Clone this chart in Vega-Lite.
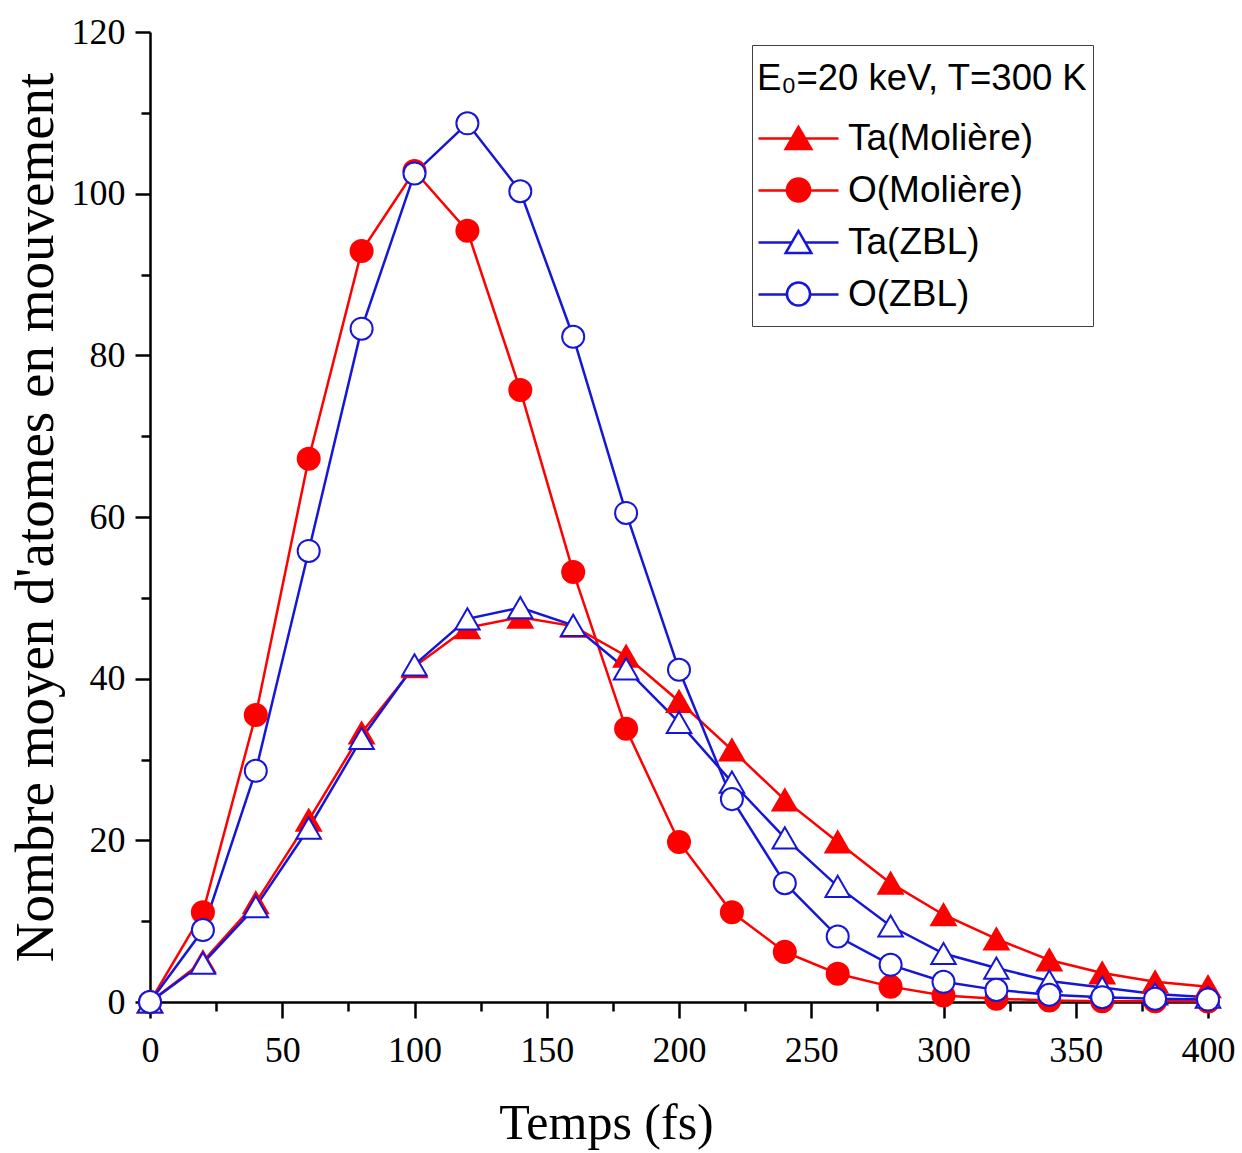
{
  "$schema": "https://vega.github.io/schema/vega-lite/v6.json",
  "width": 1058,
  "height": 970,
  "autosize": {"type": "none"},
  "padding": {"left": 150, "top": 32, "right": 34, "bottom": 151},
  "background": "white",
  "config": {
    "view": {"stroke": null},
    "axis": {
      "grid": false,
      "domainColor": "black",
      "domainWidth": 2.5,
      "tickColor": "black",
      "tickWidth": 2.5,
      "labelColor": "black",
      "labelFont": "Liberation Serif",
      "labelFontSize": 36,
      "titleFont": "Liberation Serif",
      "titleColor": "black",
      "titleFontWeight": "normal",
      "labelOverlap": false,
      "labelFlush": false
    },
    "legend": {
      "orient": "none",
      "padding": 5,
      "titleFont": "Liberation Sans",
      "titleFontSize": 36.5,
      "titleFontWeight": "normal",
      "titleColor": "black",
      "titleLimit": 600,
      "titleLineHeight": 11,
      "titlePadding": 15,
      "labelFont": "Liberation Sans",
      "labelFontSize": 37,
      "labelColor": "black",
      "labelLimit": 600,
      "labelOffset": 8,
      "symbolStrokeWidth": 2.5,
      "clipHeight": 52,
      "rowPadding": 0
    }
  },
  "resolve": {
    "scale": {"color": "independent", "fill": "independent", "shape": "independent"},
    "legend": {"color": "independent", "fill": "independent", "shape": "independent"}
  },
  "data": {
    "values": [
      {"t": 0, "series": "Ta(Molière)", "n": 0},
      {"t": 20, "series": "Ta(Molière)", "n": 5.0},
      {"t": 40, "series": "Ta(Molière)", "n": 12.3},
      {"t": 60, "series": "Ta(Molière)", "n": 22.5},
      {"t": 80, "series": "Ta(Molière)", "n": 33.3},
      {"t": 100, "series": "Ta(Molière)", "n": 41.5},
      {"t": 120, "series": "Ta(Molière)", "n": 46.3},
      {"t": 140, "series": "Ta(Molière)", "n": 47.6},
      {"t": 160, "series": "Ta(Molière)", "n": 46.5},
      {"t": 180, "series": "Ta(Molière)", "n": 42.8},
      {"t": 200, "series": "Ta(Molière)", "n": 37.2},
      {"t": 220, "series": "Ta(Molière)", "n": 31.2},
      {"t": 240, "series": "Ta(Molière)", "n": 25.0},
      {"t": 260, "series": "Ta(Molière)", "n": 19.8},
      {"t": 280, "series": "Ta(Molière)", "n": 14.7},
      {"t": 300, "series": "Ta(Molière)", "n": 10.8},
      {"t": 320, "series": "Ta(Molière)", "n": 7.8},
      {"t": 340, "series": "Ta(Molière)", "n": 5.2},
      {"t": 360, "series": "Ta(Molière)", "n": 3.6},
      {"t": 380, "series": "Ta(Molière)", "n": 2.5},
      {"t": 400, "series": "Ta(Molière)", "n": 1.9},
      {"t": 0, "series": "O(Molière)", "n": 0},
      {"t": 20, "series": "O(Molière)", "n": 11.1},
      {"t": 40, "series": "O(Molière)", "n": 35.5},
      {"t": 60, "series": "O(Molière)", "n": 67.2},
      {"t": 80, "series": "O(Molière)", "n": 92.9},
      {"t": 100, "series": "O(Molière)", "n": 102.8},
      {"t": 120, "series": "O(Molière)", "n": 95.4},
      {"t": 140, "series": "O(Molière)", "n": 75.7},
      {"t": 160, "series": "O(Molière)", "n": 53.2},
      {"t": 180, "series": "O(Molière)", "n": 33.8},
      {"t": 200, "series": "O(Molière)", "n": 19.8},
      {"t": 220, "series": "O(Molière)", "n": 11.1},
      {"t": 240, "series": "O(Molière)", "n": 6.2},
      {"t": 260, "series": "O(Molière)", "n": 3.5},
      {"t": 280, "series": "O(Molière)", "n": 1.9},
      {"t": 300, "series": "O(Molière)", "n": 0.8},
      {"t": 320, "series": "O(Molière)", "n": 0.4},
      {"t": 340, "series": "O(Molière)", "n": 0.2},
      {"t": 360, "series": "O(Molière)", "n": 0.1},
      {"t": 380, "series": "O(Molière)", "n": 0.1},
      {"t": 400, "series": "O(Molière)", "n": 0.05},
      {"t": 0, "series": "Ta(ZBL)", "n": 0},
      {"t": 20, "series": "Ta(ZBL)", "n": 4.8},
      {"t": 40, "series": "Ta(ZBL)", "n": 11.8},
      {"t": 60, "series": "Ta(ZBL)", "n": 21.5},
      {"t": 80, "series": "Ta(ZBL)", "n": 32.6},
      {"t": 100, "series": "Ta(ZBL)", "n": 41.7},
      {"t": 120, "series": "Ta(ZBL)", "n": 47.4},
      {"t": 140, "series": "Ta(ZBL)", "n": 48.8},
      {"t": 160, "series": "Ta(ZBL)", "n": 46.6},
      {"t": 180, "series": "Ta(ZBL)", "n": 41.2},
      {"t": 200, "series": "Ta(ZBL)", "n": 34.6},
      {"t": 220, "series": "Ta(ZBL)", "n": 27.2},
      {"t": 240, "series": "Ta(ZBL)", "n": 20.3},
      {"t": 260, "series": "Ta(ZBL)", "n": 14.3},
      {"t": 280, "series": "Ta(ZBL)", "n": 9.4},
      {"t": 300, "series": "Ta(ZBL)", "n": 6.0},
      {"t": 320, "series": "Ta(ZBL)", "n": 4.2},
      {"t": 340, "series": "Ta(ZBL)", "n": 2.6},
      {"t": 360, "series": "Ta(ZBL)", "n": 1.8},
      {"t": 380, "series": "Ta(ZBL)", "n": 1.0},
      {"t": 400, "series": "Ta(ZBL)", "n": 0.6},
      {"t": 0, "series": "O(ZBL)", "n": 0},
      {"t": 20, "series": "O(ZBL)", "n": 8.9},
      {"t": 40, "series": "O(ZBL)", "n": 28.6},
      {"t": 60, "series": "O(ZBL)", "n": 55.8},
      {"t": 80, "series": "O(ZBL)", "n": 83.3},
      {"t": 100, "series": "O(ZBL)", "n": 102.5},
      {"t": 120, "series": "O(ZBL)", "n": 108.7},
      {"t": 140, "series": "O(ZBL)", "n": 100.3},
      {"t": 160, "series": "O(ZBL)", "n": 82.3},
      {"t": 180, "series": "O(ZBL)", "n": 60.5},
      {"t": 200, "series": "O(ZBL)", "n": 41.1},
      {"t": 220, "series": "O(ZBL)", "n": 25.1},
      {"t": 240, "series": "O(ZBL)", "n": 14.7},
      {"t": 260, "series": "O(ZBL)", "n": 8.1},
      {"t": 280, "series": "O(ZBL)", "n": 4.6},
      {"t": 300, "series": "O(ZBL)", "n": 2.5},
      {"t": 320, "series": "O(ZBL)", "n": 1.5},
      {"t": 340, "series": "O(ZBL)", "n": 0.9},
      {"t": 360, "series": "O(ZBL)", "n": 0.6},
      {"t": 380, "series": "O(ZBL)", "n": 0.4},
      {"t": 400, "series": "O(ZBL)", "n": 0.3}
    ]
  },
  "encoding": {
    "x": {
      "field": "t",
      "type": "quantitative",
      "scale": {"domain": [0, 400], "nice": false, "zero": false},
      "axis": {
        "title": "Temps (fs)",
        "values": [0, 25, 50, 75, 100, 125, 150, 175, 200, 225, 250, 275, 300, 325, 350, 375, 400],
        "labelExpr": "datum.value % 50 === 0 ? datum.label : ''",
        "tickSize": {"condition": {"test": "datum.value % 50 === 0", "value": 16}, "value": 9},
        "labelPadding": 15,
        "titleFontSize": 50,
        "titleX": 456,
        "titleY": 136,
        "titleBaseline": "alphabetic",
        "titleAlign": "center"
      }
    },
    "y": {
      "field": "n",
      "type": "quantitative",
      "scale": {"domain": [0, 120], "nice": false},
      "axis": {
        "title": "Nombre moyen d'atomes en mouvement",
        "values": [0, 10, 20, 30, 40, 50, 60, 70, 80, 90, 100, 110, 120],
        "labelExpr": "datum.value % 20 === 0 ? datum.label : ''",
        "tickSize": {"condition": {"test": "datum.value % 20 === 0", "value": 15}, "value": 9},
        "labelPadding": 10,
        "titleFontSize": 55,
        "titleX": -98,
        "titleY": 485,
        "titleAngle": -90,
        "titleBaseline": "alphabetic",
        "titleAlign": "center"
      }
    }
  },
  "layer": [
    {
      "mark": {"type": "line", "strokeWidth": 2.5, "clip": false},
      "encoding": {
        "color": {
          "field": "series",
          "type": "nominal",
          "title": ["", "E₀=20 keV, T=300 K"],
          "scale": {
            "domain": ["Ta(Molière)", "O(Molière)", "Ta(ZBL)", "O(ZBL)"],
            "range": ["#ff0000", "#ff0000", "#1616d8", "#1616d8"]
          },
          "legend": {
            "legendX": 602,
            "legendY": 13,
            "symbolType": "stroke",
            "symbolSize": 6400,
            "symbolOffset": 0,
            "strokeColor": "#404040",
            "fillColor": "white"
          }
        }
      }
    },
    {
      "mark": {"type": "point", "opacity": 1, "strokeWidth": 2, "size": 600, "clip": false},
      "encoding": {
        "color": {
          "field": "series",
          "type": "nominal",
          "title": null,
          "scale": {
            "domain": ["Ta(Molière)", "O(Molière)", "Ta(ZBL)", "O(ZBL)"],
            "range": ["#ff0000", "#ff0000", "#1616d8", "#1616d8"]
          },
          "legend": {
            "title": null,
            "legendX": 625,
            "legendY": 75,
            "symbolSize": 660,
            "symbolOffset": 0,
            "labelExpr": "''",
            "strokeColor": "transparent",
            "fillColor": "transparent"
          }
        },
        "shape": {
          "field": "series",
          "type": "nominal",
          "title": null,
          "scale": {
            "domain": ["Ta(Molière)", "O(Molière)", "Ta(ZBL)", "O(ZBL)"],
            "range": ["triangle-up", "M-0.9,0A0.9,0.9,0,1,0,0.9,0A0.9,0.9,0,1,0,-0.9,0Z", "triangle-up", "M-0.9,0A0.9,0.9,0,1,0,0.9,0A0.9,0.9,0,1,0,-0.9,0Z"]
          }
        },
        "fill": {
          "field": "series",
          "type": "nominal",
          "title": null,
          "scale": {
            "domain": ["Ta(Molière)", "O(Molière)", "Ta(ZBL)", "O(ZBL)"],
            "range": ["#ff0000", "#ff0000", "#ffffff", "#ffffff"]
          }
        }
      }
    }
  ]
}
